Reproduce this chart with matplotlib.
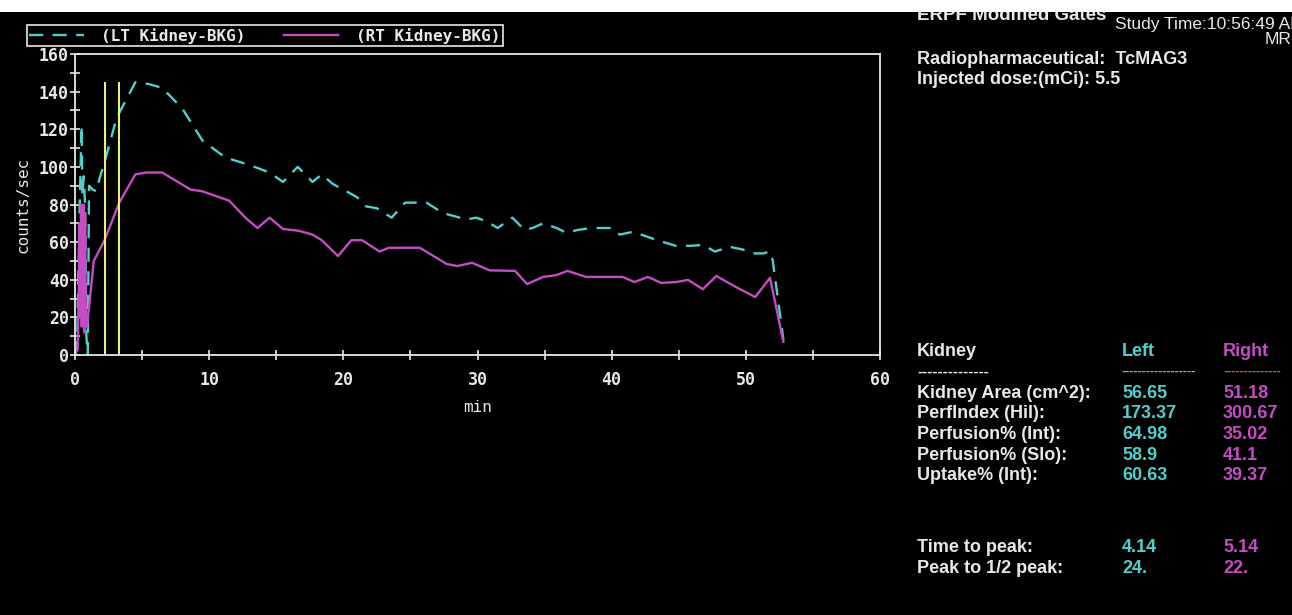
import numpy as np
import matplotlib
matplotlib.use("Agg")
import matplotlib.pyplot as plt
from matplotlib.patches import Rectangle

# renogram data (min, counts/sec)
lt_t = [0, 0.15, 0.3, 0.4, 0.5, 0.55, 0.65, 0.75, 0.85, 0.95, 1.05, 1.3, 1.6, 1.8, 2.3, 3.1, 4.5, 5.5,
        6.5, 8.0, 9.5, 11.2, 13.0, 14.5, 15.5, 16.6, 17.7, 18.4, 19.2, 21.0, 21.7, 22.5, 23.6, 24.6,
        26.2, 27.4, 29.2, 29.9, 30.7, 31.5, 32.6, 33.5, 34.1, 34.9, 35.9, 36.6, 37.5, 38.5, 40.0,
        40.6, 41.6, 42.2, 43.4, 44.1, 44.8, 45.8, 46.8, 47.7, 48.8, 49.8, 50.5, 51.3, 51.8, 52.0, 52.8]
lt_v = [0, 5, 60, 95, 122, 85, 95, 80, 10, 0, 90, 88, 87, 93, 105, 126, 145, 144,
        142, 131, 114, 105, 101, 97, 92, 100, 92, 96, 91, 84, 79, 78, 73, 81,
        81, 75.5, 72, 73, 71, 67.5, 73, 66.5, 67.5, 70, 67.5, 65, 66.5, 67.5, 67.5,
        64, 65.5, 64, 61, 59.5, 58, 58, 58.5, 55, 57.5, 56, 54, 54, 55, 50.5, 8]

rt_t = [0, 0.2, 0.3, 0.35, 0.4, 0.45, 0.5, 0.55, 0.6, 0.65, 0.7, 0.75, 0.8, 0.9, 1.4, 2.2, 3.3, 4.5,
        5.3, 6.5, 8.6, 9.5, 11.5, 12.7, 13.6, 14.5, 15.5, 16.7, 17.7, 18.4, 19.6, 20.6, 21.4, 22.7,
        23.4, 25.7, 27.7, 28.5, 29.6, 30.9, 32.8, 33.7, 34.9, 35.9, 36.7, 38.1, 40.8, 41.7, 42.7,
        43.7, 44.8, 45.7, 46.8, 47.8, 49.3, 50.7, 51.8, 52.8]
rt_v = [0, 3, 40, 70, 20, 80, 15, 78, 18, 80, 12, 75, 20, 15, 50, 61, 81, 96,
        97, 97, 88, 87, 82, 73, 67.5, 73, 67, 66, 64, 61, 52.6, 61, 61, 55,
        57, 57, 48.4, 47.3, 49, 45, 44.7, 37.7, 41.5, 42.5, 44.7, 41.5, 41.5, 38.8, 41.5,
        38.3, 38.8, 39.9, 35, 42, 36, 30.8, 41, 7]

gate_t = [2.2, 3.3]
gate_top = 145

labels = ["Kidney Area (cm^2):", "PerfIndex (Hil):", "Perfusion% (Int):", "Perfusion% (Slo):", "Uptake% (Int):"]
left_vals = ["56.65", "173.37", "64.98", "58.9", "60.63"]
right_vals = ["51.18", "300.67", "35.02", "41.1", "39.37"]
peak_labels = ["Time to peak:", "Peak to 1/2 peak:"]
peak_left = ["4.14", "24."]
peak_right = ["5.14", "22."]

CYAN = "#4fd0cc"
MAG = "#c64cc4"
YEL = "#eeee88"
FG = "#e8e8e8"
W, H = 1292, 615

fig = plt.figure(figsize=(12.92, 6.15), dpi=100, facecolor="black")
ax = fig.add_axes([75/W, 1-355/H, 805/W, 301/H], facecolor="black")

mono = "DejaVu Sans Mono"
l1, = ax.plot(lt_t, lt_v, color=CYAN, lw=1.7, dashes=(6, 4), label="(LT Kidney-BKG)")
l2, = ax.plot(rt_t, rt_v, color=MAG, lw=1.7, label="(RT Kidney-BKG)")
ax.vlines(gate_t, 0, gate_top, color=YEL, lw=1.5)

ax.set_xlim(0, 60)
ax.set_ylim(0, 160)
ax.set_xticks(np.arange(0, 61, 10))
ax.set_xticks(np.arange(0, 61, 5), minor=True)
ax.set_yticks(np.arange(0, 161, 20))
ax.set_yticks(np.arange(0, 161, 10), minor=True)
for s in ax.spines.values():
    s.set_color(FG)
    s.set_linewidth(1.3)
ax.tick_params(which="both", direction="inout", color=FG, length=7, width=1.2,
               labelcolor=FG, labelsize=12)
ax.tick_params(axis="x", pad=8)
ax.tick_params(axis="y", pad=1)
for lab in ax.get_xticklabels() + ax.get_yticklabels():
    lab.set_family(mono)
    lab.set_weight("bold")
ax.set_xlabel("min", color=FG, family=mono, fontsize=11.5, labelpad=8)
ax.set_ylabel("counts/sec", color=FG, family=mono, fontsize=11.5, labelpad=6)

leg = ax.legend(handles=[l1, l2], ncol=2, loc="lower left",
                bbox_to_anchor=(27/W, 1-46/H), bbox_transform=fig.transFigure,
                borderaxespad=0, fancybox=False, facecolor="black", edgecolor=FG,
                framealpha=1, handlelength=3.4, handletextpad=1.1, columnspacing=2.4,
                borderpad=0.15, prop={"family": mono, "weight": "bold", "size": 11.5})
leg.get_frame().set_linewidth(1.2)
for t in leg.get_texts():
    t.set_color(FG)

# right-hand report panel
sans = ["Liberation Sans", "DejaVu Sans"]

def ftext(x, y, s, **kw):
    kw.setdefault("color", FG)
    kw.setdefault("family", sans)
    kw.setdefault("weight", "bold")
    kw.setdefault("fontsize", 13)
    fig.text(x/W, 1-y/H, s, va="center", ha="left", **kw)

ftext(917, 16, "ERPF Modified Gates", fontsize=13.5)
ftext(1115, 24, "Study Time:10:56:49 AM", weight="normal", fontsize=12.5)
ftext(1265, 39, "MRN", weight="normal", fontsize=12.5)
ftext(917, 60, "Radiopharmaceutical:  TcMAG3")
ftext(917, 80, "Injected dose:(mCi): 5.5")

ftext(917, 352, "Kidney")
ftext(1122, 352, "Left", color=CYAN)
ftext(1223, 352, "Right", color=MAG)
ftext(917, 372, "-" * 14, fontsize=11)
ftext(1122, 372, "-" * 18, color=CYAN, fontsize=9)
ftext(1223, 372, "-" * 14, color=MAG, fontsize=9)
for i in range(len(labels)):
    y = 393 + i * 20.7
    ftext(917, y, labels[i])
    ftext(1122, y, left_vals[i], color=CYAN)
    ftext(1223, y, right_vals[i], color=MAG)
for i in range(len(peak_labels)):
    y = 548 + i * 20.7
    ftext(917, y, peak_labels[i])
    ftext(1122, y, peak_left[i], color=CYAN)
    ftext(1223, y, peak_right[i], color=MAG)

# white strip along the top edge of the screenshot
fig.patches.append(Rectangle((0, 1-12/H), 1, 12/H, transform=fig.transFigure,
                             facecolor="white", edgecolor="none", zorder=10))

fig.savefig("out.png", dpi=100, facecolor="black")
